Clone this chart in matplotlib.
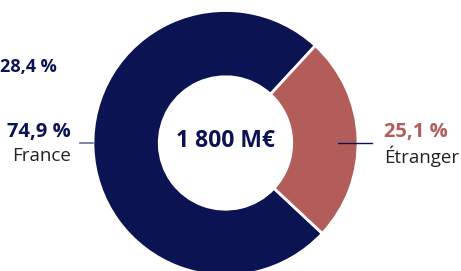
#!/usr/bin/env python3
"""Donut: répartition France / Étranger"""

import matplotlib.pyplot as plt

# Data
labels = ['France', 'Étranger']
shares = [74.9, 25.1]
share_labels = ['74,9 %', '25,1 %']
extra_label = '28,4 %'
total_label = '1 800 M€'

navy = '#0b1352'
red = '#b35d5b'
colors = [navy, red]

plt.rcParams['font.family'] = ['Open Sans', 'DejaVu Sans']

fig = plt.figure(figsize=(4.61, 2.71), dpi=100)
ax = fig.add_axes([0, 0, 1, 1])

cx, cy, r = 225.5, 128, 132.5
ax.pie(shares, colors=colors, startangle=47.3, center=(cx, cy), radius=r,
       wedgeprops=dict(width=r * 0.5, edgecolor='white', linewidth=2))
ax.set_xlim(0, 461)
ax.set_ylim(0, 271)
ax.set_aspect('equal')
ax.axis('off')

# Center label
ax.text(cx, cy + 2, total_label, ha='center', va='center', fontsize=16.5,
        fontweight='bold', color=navy)

# Left labels
ax.plot([80, 93], [128, 128], color='#6a7098', lw=1.2)
ax.text(71, 139, share_labels[0], ha='right', va='center', fontsize=14.5,
        fontweight='bold', color=navy)
ax.text(71, 115, labels[0], ha='right', va='center', fontsize=13.5,
        color='#222222')
ax.text(0, 204, extra_label, ha='left', va='center', fontsize=13,
        fontweight='bold', color=navy)

# Right labels
ax.plot([338, 372], [128, 128], color=navy, lw=1)
ax.text(384, 139, share_labels[1], ha='left', va='center', fontsize=14.5,
        fontweight='bold', color=red)
ax.text(384, 115, labels[1], ha='left', va='center', fontsize=13.5,
        color='#222222')

plt.savefig('out.png', dpi=100)
